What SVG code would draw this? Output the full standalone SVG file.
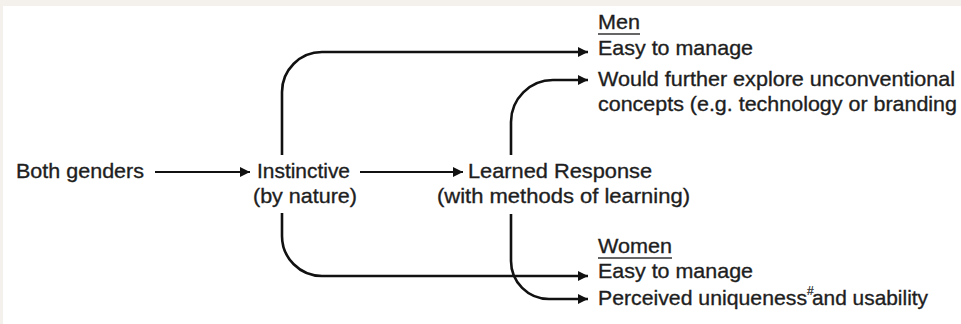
<svg xmlns="http://www.w3.org/2000/svg" width="961" height="324" viewBox="0 0 961 324">
<defs>
<marker id="ah" markerUnits="userSpaceOnUse" markerWidth="11" markerHeight="11" refX="10" refY="5" orient="auto">
<path d="M0,0 L10,5 L0,10 z" fill="#111"/>
</marker>
<style>
text{font-family:"Liberation Sans",Arial,sans-serif;font-size:21px;fill:#1e1e1e;stroke:#1e1e1e;stroke-width:0.35}
.c{fill:none;stroke:#111;marker-end:url(#ah)}
.thin{stroke-width:2}
.thick{stroke-width:2.6}
.u{stroke:#333;stroke-width:1.6}
.sup{font-size:12px;stroke-width:0.2}
</style>
</defs>
<rect width="961" height="324" fill="#f4f1ec"/>
<rect x="3" y="6" width="958" height="318" fill="#ffffff"/>
<g id="connectors">
<path class="c thin" d="M155,172 H250"/>
<path class="c thin" d="M360,172 H463"/>
<path class="c thick" d="M282,155 V92 A40,40 0 0 1 322,52 H588"/>
<path class="c thick" d="M511,155 V122 A42,42 0 0 1 553,80 H588"/>
<path class="c thick" d="M282,213 V236 A40,40 0 0 0 322,276 H588"/>
<path class="c thick" d="M511,214 V261 A38,38 0 0 0 549,299 H588"/>
</g>
<g id="both">
<text x="16" y="178" textLength="128" lengthAdjust="spacingAndGlyphs">Both genders</text>
</g>
<g id="instinctive">
<text x="257" y="178" textLength="93" lengthAdjust="spacingAndGlyphs">Instinctive</text>
<text x="253" y="203" textLength="104" lengthAdjust="spacingAndGlyphs">(by nature)</text>
</g>
<g id="learned">
<text x="468" y="178" textLength="184" lengthAdjust="spacingAndGlyphs">Learned Response</text>
<text x="437" y="203" textLength="253" lengthAdjust="spacingAndGlyphs">(with methods of learning)</text>
</g>
<g id="men">
<text x="598" y="29" textLength="42" lengthAdjust="spacingAndGlyphs">Men</text>
<line class="u" x1="598" y1="34" x2="640" y2="34"/>
<text x="598" y="55" textLength="155" lengthAdjust="spacingAndGlyphs">Easy to manage</text>
<text x="598" y="86" textLength="357" lengthAdjust="spacingAndGlyphs">Would further explore unconventional</text>
<text x="598" y="111" textLength="359" lengthAdjust="spacingAndGlyphs">concepts (e.g. technology or branding</text>
</g>
<g id="women">
<text x="598" y="253" textLength="74" lengthAdjust="spacingAndGlyphs">Women</text>
<line class="u" x1="598" y1="258" x2="672" y2="258"/>
<text x="598" y="278" textLength="155" lengthAdjust="spacingAndGlyphs">Easy to manage</text>
<text x="598" y="305" textLength="209" lengthAdjust="spacingAndGlyphs">Perceived uniqueness</text>
<text class="sup" x="807" y="295">#</text>
<text x="812" y="305" textLength="116" lengthAdjust="spacingAndGlyphs">and usability</text>
</g>
</svg>
